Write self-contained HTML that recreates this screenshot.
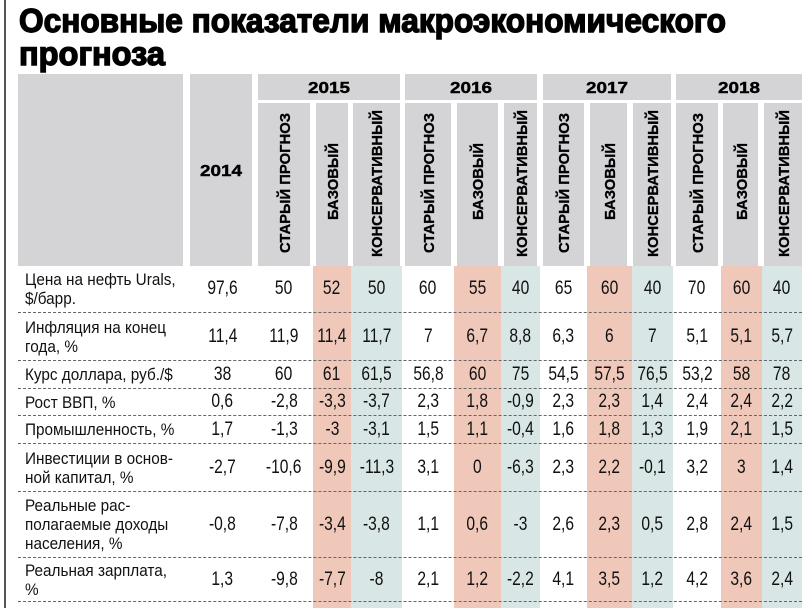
<!DOCTYPE html>
<html><head><meta charset="utf-8"><style>
*{margin:0;padding:0;box-sizing:border-box}
body{width:802px;height:608px;background:#fff;position:relative;overflow:hidden;font-family:"Liberation Sans",sans-serif;color:#111}
.vl{position:absolute;left:4px;top:0;width:2px;height:608px;background:#555}
.g{position:absolute;background:#d4d4d6}
.p{position:absolute;top:266px;bottom:0;background:#efc8ba}
.t{position:absolute;top:266px;bottom:0;background:#d8e7e5}
.row{position:absolute;left:18px;width:784px;display:flex;border-bottom:1px dashed #666}
.row div{display:flex;align-items:center;justify-content:center;font-size:19px;white-space:nowrap}
.row div span{display:inline-block;transform:scaleX(.82)}
.row div.l{justify-content:flex-start;padding-left:7px;font-size:17px;line-height:19px}
.row div.l span{transform-origin:left center;transform:scaleX(.9)}
</style></head><body>
<div class="vl"></div>
<div class="g" style="left:18px;top:74px;width:165px;height:192px"></div>
<div class="g" style="left:190px;top:74px;width:62px;height:192px"></div>
<div class="g" style="left:258px;top:74px;width:142px;height:26px"></div>
<div class="g" style="left:405px;top:74px;width:132px;height:26px"></div>
<div class="g" style="left:543px;top:74px;width:128px;height:26px"></div>
<div class="g" style="left:676px;top:74px;width:126px;height:26px"></div>
<div class="g" style="left:258px;top:103px;width:52px;height:163px"></div>
<div class="g" style="left:316px;top:103px;width:32px;height:163px"></div>
<div class="g" style="left:353px;top:103px;width:47px;height:163px"></div>
<div class="g" style="left:405px;top:103px;width:46px;height:163px"></div>
<div class="g" style="left:457px;top:103px;width:41px;height:163px"></div>
<div class="g" style="left:504px;top:103px;width:33px;height:163px"></div>
<div class="g" style="left:543px;top:103px;width:41px;height:163px"></div>
<div class="g" style="left:590px;top:103px;width:37px;height:163px"></div>
<div class="g" style="left:633px;top:103px;width:38px;height:163px"></div>
<div class="g" style="left:676px;top:103px;width:42px;height:163px"></div>
<div class="g" style="left:723px;top:103px;width:35px;height:163px"></div>
<div class="g" style="left:764px;top:103px;width:38px;height:163px"></div>
<div class="p" style="left:313px;width:38px"></div><div class="t" style="left:351px;width:51px"></div>
<div class="p" style="left:454px;width:47px"></div><div class="t" style="left:501px;width:39px"></div>
<div class="p" style="left:587px;width:45px"></div><div class="t" style="left:632px;width:41px"></div>
<div class="p" style="left:721px;width:41px"></div><div class="t" style="left:762px;width:40px"></div>
<svg width="802" height="608" style="position:absolute;left:0;top:0" font-family="Liberation Sans, sans-serif" font-weight="bold" fill="#000">
<text x="19" y="32" font-size="33" stroke="#000" stroke-width="1.4" textLength="707" lengthAdjust="spacingAndGlyphs">Основные показатели макроэкономического</text>
<text x="19" y="65" font-size="33" stroke="#000" stroke-width="1.4" textLength="146" lengthAdjust="spacingAndGlyphs">прогноза</text>
<g font-size="16" text-anchor="middle" stroke="#000" stroke-width="0.4">
<text x="221" y="176" textLength="42" lengthAdjust="spacingAndGlyphs">2014</text>
<text x="329" y="93" textLength="42" lengthAdjust="spacingAndGlyphs">2015</text><text x="471" y="93" textLength="42" lengthAdjust="spacingAndGlyphs">2016</text><text x="607" y="93" textLength="42" lengthAdjust="spacingAndGlyphs">2017</text><text x="739" y="93" textLength="42" lengthAdjust="spacingAndGlyphs">2018</text>
</g>
<g font-size="15" stroke="#000" stroke-width="0.3">
<text transform="translate(290,253) rotate(-90)" textLength="140" lengthAdjust="spacingAndGlyphs">СТАРЫЙ ПРОГНОЗ</text>
<text transform="translate(338,220) rotate(-90)" textLength="77" lengthAdjust="spacingAndGlyphs">БАЗОВЫЙ</text>
<text transform="translate(382,257) rotate(-90)" textLength="147" lengthAdjust="spacingAndGlyphs">КОНСЕРВАТИВНЫЙ</text>
<text transform="translate(434,253) rotate(-90)" textLength="140" lengthAdjust="spacingAndGlyphs">СТАРЫЙ ПРОГНОЗ</text>
<text transform="translate(483,220) rotate(-90)" textLength="77" lengthAdjust="spacingAndGlyphs">БАЗОВЫЙ</text>
<text transform="translate(527,257) rotate(-90)" textLength="147" lengthAdjust="spacingAndGlyphs">КОНСЕРВАТИВНЫЙ</text>
<text transform="translate(569,253) rotate(-90)" textLength="140" lengthAdjust="spacingAndGlyphs">СТАРЫЙ ПРОГНОЗ</text>
<text transform="translate(615,220) rotate(-90)" textLength="77" lengthAdjust="spacingAndGlyphs">БАЗОВЫЙ</text>
<text transform="translate(658,257) rotate(-90)" textLength="147" lengthAdjust="spacingAndGlyphs">КОНСЕРВАТИВНЫЙ</text>
<text transform="translate(703,253) rotate(-90)" textLength="140" lengthAdjust="spacingAndGlyphs">СТАРЫЙ ПРОГНОЗ</text>
<text transform="translate(747,220) rotate(-90)" textLength="77" lengthAdjust="spacingAndGlyphs">БАЗОВЫЙ</text>
<text transform="translate(789,257) rotate(-90)" textLength="147" lengthAdjust="spacingAndGlyphs">КОНСЕРВАТИВНЫЙ</text>
</g>
</svg>

<div class="row" style="top:266px;height:47px"><div class="l" style="width:172px"><span>Цена на нефть Urals,<br>$/барр.</span></div><div style="width:65px"><span>97,6</span></div><div style="width:58px"><span>50</span></div><div style="width:38px"><span>52</span></div><div style="width:51px"><span>50</span></div><div style="width:52px"><span>60</span></div><div style="width:47px"><span>55</span></div><div style="width:39px"><span>40</span></div><div style="width:47px"><span>65</span></div><div style="width:45px"><span>60</span></div><div style="width:41px"><span>40</span></div><div style="width:48px"><span>70</span></div><div style="width:41px"><span>60</span></div><div style="width:40px"><span>40</span></div></div>

<div class="row" style="top:313px;height:48px"><div class="l" style="width:172px"><span>Инфляция на конец<br>года, %</span></div><div style="width:65px"><span>11,4</span></div><div style="width:58px"><span>11,9</span></div><div style="width:38px"><span>11,4</span></div><div style="width:51px"><span>11,7</span></div><div style="width:52px"><span>7</span></div><div style="width:47px"><span>6,7</span></div><div style="width:39px"><span>8,8</span></div><div style="width:47px"><span>6,3</span></div><div style="width:45px"><span>6</span></div><div style="width:41px"><span>7</span></div><div style="width:48px"><span>5,1</span></div><div style="width:41px"><span>5,1</span></div><div style="width:40px"><span>5,7</span></div></div>

<div class="row" style="top:361px;height:28px"><div class="l" style="width:172px"><span>Курс доллара, руб./$</span></div><div style="width:65px"><span>38</span></div><div style="width:58px"><span>60</span></div><div style="width:38px"><span>61</span></div><div style="width:51px"><span>61,5</span></div><div style="width:52px"><span>56,8</span></div><div style="width:47px"><span>60</span></div><div style="width:39px"><span>75</span></div><div style="width:47px"><span>54,5</span></div><div style="width:45px"><span>57,5</span></div><div style="width:41px"><span>76,5</span></div><div style="width:48px"><span>53,2</span></div><div style="width:41px"><span>58</span></div><div style="width:40px"><span>78</span></div></div>

<div class="row" style="top:389px;height:27px"><div class="l" style="width:172px"><span>Рост ВВП, %</span></div><div style="width:65px"><span>0,6</span></div><div style="width:58px"><span>-2,8</span></div><div style="width:38px"><span>-3,3</span></div><div style="width:51px"><span>-3,7</span></div><div style="width:52px"><span>2,3</span></div><div style="width:47px"><span>1,8</span></div><div style="width:39px"><span>-0,9</span></div><div style="width:47px"><span>2,3</span></div><div style="width:45px"><span>2,3</span></div><div style="width:41px"><span>1,4</span></div><div style="width:48px"><span>2,4</span></div><div style="width:41px"><span>2,4</span></div><div style="width:40px"><span>2,2</span></div></div>

<div class="row" style="top:416px;height:28px"><div class="l" style="width:172px"><span>Промышленность, %</span></div><div style="width:65px"><span>1,7</span></div><div style="width:58px"><span>-1,3</span></div><div style="width:38px"><span>-3</span></div><div style="width:51px"><span>-3,1</span></div><div style="width:52px"><span>1,5</span></div><div style="width:47px"><span>1,1</span></div><div style="width:39px"><span>-0,4</span></div><div style="width:47px"><span>1,6</span></div><div style="width:45px"><span>1,8</span></div><div style="width:41px"><span>1,3</span></div><div style="width:48px"><span>1,9</span></div><div style="width:41px"><span>2,1</span></div><div style="width:40px"><span>1,5</span></div></div>

<div class="row" style="top:444px;height:48px"><div class="l" style="width:172px"><span>Инвестиции в основ-<br>ной капитал, %</span></div><div style="width:65px"><span>-2,7</span></div><div style="width:58px"><span>-10,6</span></div><div style="width:38px"><span>-9,9</span></div><div style="width:51px"><span>-11,3</span></div><div style="width:52px"><span>3,1</span></div><div style="width:47px"><span>0</span></div><div style="width:39px"><span>-6,3</span></div><div style="width:47px"><span>2,3</span></div><div style="width:45px"><span>2,2</span></div><div style="width:41px"><span>-0,1</span></div><div style="width:48px"><span>3,2</span></div><div style="width:41px"><span>3</span></div><div style="width:40px"><span>1,4</span></div></div>

<div class="row" style="top:492px;height:66px"><div class="l" style="width:172px"><span>Реальные рас-<br>полагаемые доходы<br>населения, %</span></div><div style="width:65px"><span>-0,8</span></div><div style="width:58px"><span>-7,8</span></div><div style="width:38px"><span>-3,4</span></div><div style="width:51px"><span>-3,8</span></div><div style="width:52px"><span>1,1</span></div><div style="width:47px"><span>0,6</span></div><div style="width:39px"><span>-3</span></div><div style="width:47px"><span>2,6</span></div><div style="width:45px"><span>2,3</span></div><div style="width:41px"><span>0,5</span></div><div style="width:48px"><span>2,8</span></div><div style="width:41px"><span>2,4</span></div><div style="width:40px"><span>1,5</span></div></div>

<div class="row" style="top:558px;height:44px"><div class="l" style="width:172px"><span>Реальная зарплата,<br>%</span></div><div style="width:65px"><span>1,3</span></div><div style="width:58px"><span>-9,8</span></div><div style="width:38px"><span>-7,7</span></div><div style="width:51px"><span>-8</span></div><div style="width:52px"><span>2,1</span></div><div style="width:47px"><span>1,2</span></div><div style="width:39px"><span>-2,2</span></div><div style="width:47px"><span>4,1</span></div><div style="width:45px"><span>3,5</span></div><div style="width:41px"><span>1,2</span></div><div style="width:48px"><span>4,2</span></div><div style="width:41px"><span>3,6</span></div><div style="width:40px"><span>2,4</span></div></div>
</body></html>
